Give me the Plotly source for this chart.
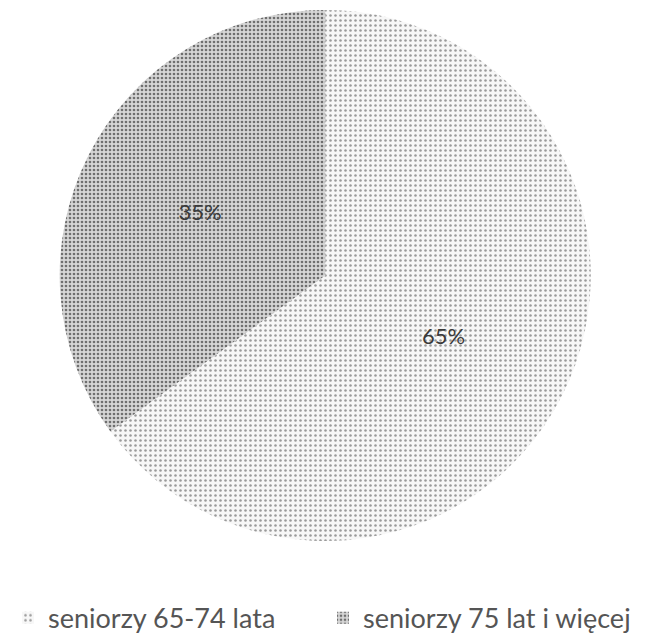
import plotly.graph_objects as go

labels = ["seniorzy 65-74 lata", "seniorzy 75 lat i więcej"]
values = [65, 35]
text_labels = ["65%", "35%"]

fig = go.Figure(go.Pie(
    labels=labels,
    values=values,
    text=text_labels,
    textinfo="text",
    textposition="inside",
    insidetextorientation="horizontal",
    sort=False,
    direction="clockwise",
    rotation=0,
    domain=dict(x=[0.073, 0.881], y=[0.158, 0.997]),
    marker=dict(
        colors=["#f2f2f2", "#cfcfcf"],
        line=dict(width=0),
        pattern=dict(
            shape=[".", "."],
            fgcolor=["#9a9a9a", "#6f6f6f"],
            bgcolor=["#f7f7f7", "#d6d6d6"],
            size=[5, 4],
            solidity=[0.2, 0.35],
        ),
    ),
    textfont=dict(family="Lato", size=22, color="#3a3a3a"),
    showlegend=True,
))

fig.update_layout(
    width=665,
    height=635,
    margin=dict(l=0, r=0, t=0, b=0),
    paper_bgcolor="white",
    plot_bgcolor="white",
    legend=dict(
        orientation="h",
        x=0.0,
        xanchor="left",
        y=0.036,
        yanchor="middle",
        font=dict(family="Lato", size=27, color="#555555"),
        itemsizing="constant",
        entrywidth=270,
        entrywidthmode="pixels",
    ),
)

fig.write_html("out.html")
